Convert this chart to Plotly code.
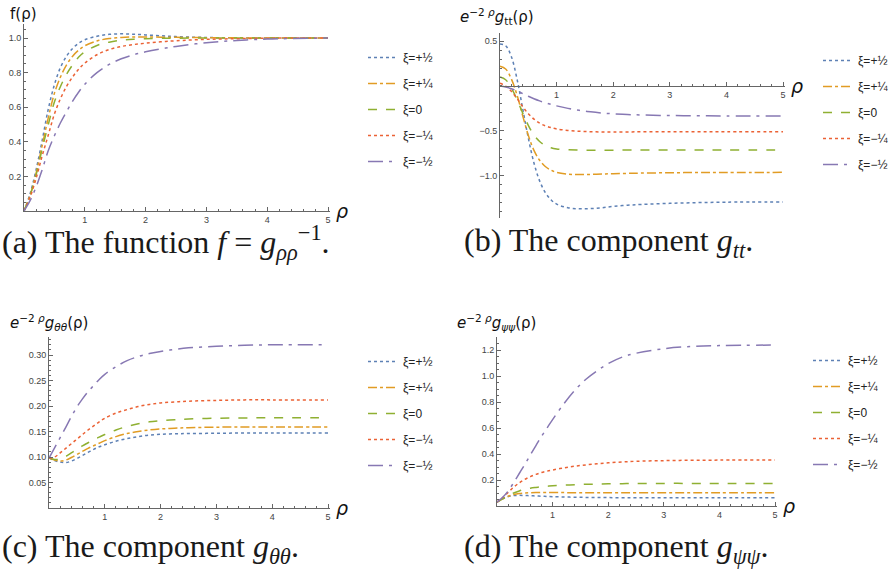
import plotly.graph_objects as go

W, H = 896, 572

rho = [0, 0.1, 0.2, 0.3, 0.4, 0.5, 0.6, 0.7, 0.8, 0.9, 1.0, 1.2, 1.4, 1.6, 1.8, 2.0, 2.25, 2.5, 3.0, 3.5, 4.0, 5.0]
names = ["ξ=+½", "ξ=+¼", "ξ=0", "ξ=−¼", "ξ=−½"]

# (a) f(rho)
f_p12 = [0, 0.10, 0.24, 0.41, 0.59, 0.73, 0.83, 0.895, 0.94, 0.97, 0.99, 1.01, 1.021, 1.024, 1.022, 1.018, 1.013, 1.008, 1.003, 1.001, 1.0, 1.0]
f_p14 = [0, 0.09, 0.22, 0.38, 0.54, 0.68, 0.775, 0.845, 0.895, 0.93, 0.955, 0.983, 0.997, 1.003, 1.006, 1.006, 1.005, 1.004, 1.002, 1.001, 1.0, 1.0]
f_0 = [0, 0.09, 0.21, 0.36, 0.50, 0.63, 0.72, 0.79, 0.845, 0.89, 0.92, 0.957, 0.976, 0.987, 0.993, 0.996, 0.998, 0.999, 1.0, 1.0, 1.0, 1.0]
f_m14 = [0, 0.08, 0.19, 0.32, 0.44, 0.56, 0.65, 0.72, 0.775, 0.82, 0.855, 0.903, 0.933, 0.951, 0.962, 0.97, 0.978, 0.984, 0.992, 0.996, 0.999, 1.0]
f_m12 = [0, 0.06, 0.14, 0.24, 0.35, 0.435, 0.51, 0.575, 0.635, 0.688, 0.733, 0.800, 0.847, 0.880, 0.903, 0.92, 0.937, 0.951, 0.973, 0.986, 0.994, 1.0]

# (b) e^{-2rho} g_tt
gtt_p12 = [0.47, 0.45, 0.33, 0.08, -0.25, -0.58, -0.86, -1.06, -1.19, -1.27, -1.32, -1.36, -1.372, -1.37, -1.36, -1.345, -1.332, -1.323, -1.311, -1.303, -1.298, -1.295]
gtt_p14 = [0.22, 0.19, 0.08, -0.10, -0.33, -0.55, -0.72, -0.83, -0.90, -0.94, -0.965, -0.985, -0.99, -0.988, -0.984, -0.98, -0.976, -0.973, -0.969, -0.967, -0.966, -0.965]
gtt_0 = [0.10, 0.07, -0.02, -0.15, -0.30, -0.44, -0.55, -0.62, -0.665, -0.69, -0.703, -0.713, -0.716, -0.717, -0.717, -0.717, -0.716, -0.716, -0.716, -0.716, -0.716, -0.716]
gtt_m14 = [0.03, 0.0, -0.06, -0.14, -0.23, -0.31, -0.37, -0.415, -0.445, -0.465, -0.48, -0.497, -0.506, -0.511, -0.513, -0.514, -0.513, -0.512, -0.511, -0.51, -0.51, -0.51]
gtt_m12 = [0.0, -0.012, -0.03, -0.055, -0.085, -0.115, -0.142, -0.166, -0.187, -0.205, -0.222, -0.25, -0.272, -0.289, -0.302, -0.311, -0.319, -0.324, -0.33, -0.333, -0.334, -0.335]

# (c) e^{-2rho} g_thth
gth_p12 = [0.098, 0.093, 0.090, 0.089, 0.092, 0.097, 0.103, 0.109, 0.115, 0.120, 0.124, 0.131, 0.136, 0.140, 0.143, 0.1445, 0.1455, 0.146, 0.1465, 0.147, 0.147, 0.147]
gth_p14 = [0.098, 0.094, 0.092, 0.094, 0.099, 0.105, 0.111, 0.117, 0.122, 0.127, 0.132, 0.140, 0.146, 0.150, 0.153, 0.155, 0.1565, 0.1575, 0.1585, 0.159, 0.159, 0.159]
gth_0 = [0.098, 0.095, 0.096, 0.101, 0.108, 0.115, 0.122, 0.128, 0.134, 0.139, 0.144, 0.153, 0.160, 0.165, 0.169, 0.171, 0.173, 0.1745, 0.176, 0.1765, 0.177, 0.177]
gth_m14 = [0.098, 0.100, 0.108, 0.117, 0.126, 0.135, 0.144, 0.153, 0.161, 0.169, 0.176, 0.186, 0.193, 0.199, 0.203, 0.206, 0.208, 0.2095, 0.211, 0.212, 0.212, 0.212]
gth_m12 = [0.098, 0.118, 0.138, 0.158, 0.179, 0.198, 0.214, 0.228, 0.240, 0.252, 0.262, 0.277, 0.289, 0.297, 0.303, 0.307, 0.311, 0.314, 0.317, 0.319, 0.320, 0.320]

# (d) e^{-2rho} g_psipsi
gps_p12 = [0.03, 0.055, 0.072, 0.080, 0.082, 0.081, 0.079, 0.077, 0.075, 0.0735, 0.072, 0.0695, 0.0675, 0.066, 0.065, 0.0645, 0.064, 0.064, 0.064, 0.064, 0.064, 0.064]
gps_p14 = [0.03, 0.055, 0.075, 0.088, 0.096, 0.100, 0.102, 0.103, 0.103, 0.103, 0.103, 0.103, 0.102, 0.102, 0.102, 0.102, 0.102, 0.102, 0.102, 0.102, 0.102, 0.102]
gps_0 = [0.03, 0.055, 0.080, 0.100, 0.116, 0.128, 0.137, 0.143, 0.148, 0.152, 0.155, 0.160, 0.164, 0.167, 0.169, 0.171, 0.172, 0.173, 0.174, 0.174, 0.174, 0.174]
gps_m14 = [0.03, 0.065, 0.105, 0.145, 0.178, 0.205, 0.226, 0.243, 0.257, 0.268, 0.277, 0.293, 0.306, 0.316, 0.325, 0.332, 0.339, 0.344, 0.349, 0.352, 0.353, 0.354]
gps_m12 = [0.03, 0.065, 0.115, 0.180, 0.250, 0.320, 0.393, 0.465, 0.535, 0.600, 0.665, 0.785, 0.890, 0.975, 1.040, 1.095, 1.145, 1.175, 1.210, 1.227, 1.234, 1.238]

panels = {
    "a": [f_p12, f_p14, f_0, f_m14, f_m12],
    "b": [gtt_p12, gtt_p14, gtt_0, gtt_m14, gtt_m12],
    "c": [gth_p12, gth_p14, gth_0, gth_m14, gth_m12],
    "d": [gps_p12, gps_p14, gps_0, gps_m14, gps_m12],
}

colors = ["#5E81B5", "#E19C24", "#8FB032", "#EB6235", "#8778B3"]
dashes = ["dot", "dashdot", "dash", "dot", "longdashdot"]


def xdom(p0, p1):
    return [p0 / W, p1 / W]


def ydom(top, bottom):
    return [1 - bottom / H, 1 - top / H]


# axis geometry (pixel placement of plotting areas)
geo = {
    "a": dict(x0=24, xs=60.8, y0=211, ys=173.0, yr=[0, 1.08]),
    "b": dict(x0=500, xs=56.6, y0=86, ys=89.5, yr=[-1.47, 0.595]),
    "c": dict(x0=49, xs=55.8, y0=508, ys=510.0, yr=[0, 0.335]),
    "d": dict(x0=497, xs=55.6, y0=506, ys=130.0, yr=[0, 1.30]),
}
xr = [0, 5.03]

yticks = {
    "a": dict(vals=[0.2, 0.4, 0.6, 0.8, 1.0], fmt=".1f", minor=0.05),
    "b": dict(vals=[-1.0, -0.5, 0.5], fmt=".1f", minor=0.1),
    "c": dict(vals=[0.05, 0.10, 0.15, 0.20, 0.25, 0.30], fmt=".2f", minor=0.01),
    "d": dict(vals=[0.2, 0.4, 0.6, 0.8, 1.0, 1.2], fmt=".1f", minor=0.05),
}

legend_pos = {"a": (363, 43), "b": (818, 46), "c": (363, 347), "d": (808, 346)}

fig = go.Figure()
tickfont = dict(family="Liberation Sans, Arial, sans-serif", size=9, color="#444")
axcol = "#666"

layout = dict(
    width=W, height=H, margin=dict(l=0, r=0, t=0, b=0),
    paper_bgcolor="white", plot_bgcolor="white", showlegend=True,
)
annotations = []

for i, key in enumerate(["a", "b", "c", "d"]):
    n = i + 1
    sfx = "" if n == 1 else str(n)
    g = geo[key]
    yr = g["yr"]
    xpx = [g["x0"] + xr[0] * g["xs"], g["x0"] + xr[1] * g["xs"]]
    ypx_top = g["y0"] - yr[1] * g["ys"]
    ypx_bot = g["y0"] - yr[0] * g["ys"]
    xd = xdom(*xpx)
    yd = ydom(ypx_top, ypx_bot)
    legname = "legend" if n == 1 else f"legend{n}"

    for j, ys in enumerate(panels[key]):
        fig.add_trace(go.Scatter(
            x=rho, y=ys, mode="lines", name=names[j],
            line=dict(color=colors[j], dash=dashes[j], width=1.5, shape="spline", smoothing=1.0),
            xaxis="x" + sfx, yaxis="y" + sfx, legend=legname,
            legendgroup=f"{key}{j}",
        ))

    xaxis = dict(
        domain=xd, range=xr, showgrid=False, zeroline=False,
        showline=True, linecolor=axcol, linewidth=1,
        tickvals=[1, 2, 3, 4, 5], ticks="inside", ticklen=4, tickcolor=axcol,
        tickfont=tickfont,
        minor=dict(dtick=0.2, ticklen=2, ticks="inside", tickcolor=axcol, showgrid=False),
        fixedrange=True,
    )
    if yr[0] < 0:
        xaxis["anchor"] = "free"
        xaxis["position"] = yd[0] + (0 - yr[0]) / (yr[1] - yr[0]) * (yd[1] - yd[0])
    else:
        xaxis["anchor"] = "y" + sfx
    yt = yticks[key]
    yaxis = dict(
        domain=yd, range=yr, anchor="x" + sfx, showgrid=False, zeroline=False,
        showline=True, linecolor=axcol, linewidth=1,
        tickvals=yt["vals"], tickformat=yt["fmt"], ticks="inside", ticklen=4, tickcolor=axcol,
        tickfont=tickfont,
        minor=dict(dtick=yt["minor"], ticklen=2, ticks="inside", tickcolor=axcol, showgrid=False),
        fixedrange=True,
    )
    layout["xaxis" + sfx] = xaxis
    layout["yaxis" + sfx] = yaxis

    lx, ly = legend_pos[key]
    layout[legname] = dict(
        x=lx / W, y=1 - ly / H, xanchor="left", yanchor="top",
        font=dict(family="Liberation Sans, Arial, sans-serif", size=12, color="#222"),
        bgcolor="rgba(0,0,0,0)", tracegroupgap=7, itemwidth=30,
    )

    # rho axis label
    annotations.append(dict(
        x=(xpx[1] + 4) / W, y=1 - g["y0"] / H, xref="paper", yref="paper",
        text="<i>ρ</i>", showarrow=False, xanchor="left", yanchor="middle",
        font=dict(family="DejaVu Sans, sans-serif", size=19, color="#111"),
    ))

# y-axis labels
ylabels = [
    ("f(ρ)", 8, 14),
    ("<i>e</i><sup>−2 <i>ρ</i></sup><i>g</i><sub>tt</sub>(ρ)", 458, 16),
    ("<i>e</i><sup>−2 <i>ρ</i></sup><i>g</i><sub><i>θθ</i></sub>(ρ)", 8, 322),
    ("<i>e</i><sup>−2 <i>ρ</i></sup><i>g</i><sub><i>ψψ</i></sub>(ρ)", 455, 322),
]
for txt, px, py in ylabels:
    annotations.append(dict(
        x=px / W, y=1 - py / H, xref="paper", yref="paper", text=txt,
        showarrow=False, xanchor="left", yanchor="middle",
        font=dict(family="DejaVu Sans, sans-serif", size=15, color="#111"),
    ))

captions = [
    ("(a) The function <i>f</i> = <i>g</i><sub><i>ρρ</i></sub><sup>−1</sup>.", 0, 243),
    ("(b) The component <i>g</i><sub><i>tt</i></sub>.", 462, 243),
    ("(c) The component <i>g</i><sub><i>θθ</i></sub>.", 0, 548),
    ("(d) The component <i>g</i><sub><i>ψψ</i></sub>.", 462, 548),
]
for txt, px, py in captions:
    annotations.append(dict(
        x=px / W, y=1 - py / H, xref="paper", yref="paper", text=txt,
        showarrow=False, xanchor="left", yanchor="middle",
        font=dict(family="Liberation Serif, DejaVu Serif, serif", size=32, color="#1a1a1a"),
    ))

layout["annotations"] = annotations
fig.update_layout(**layout)
fig.write_html("out.html")
